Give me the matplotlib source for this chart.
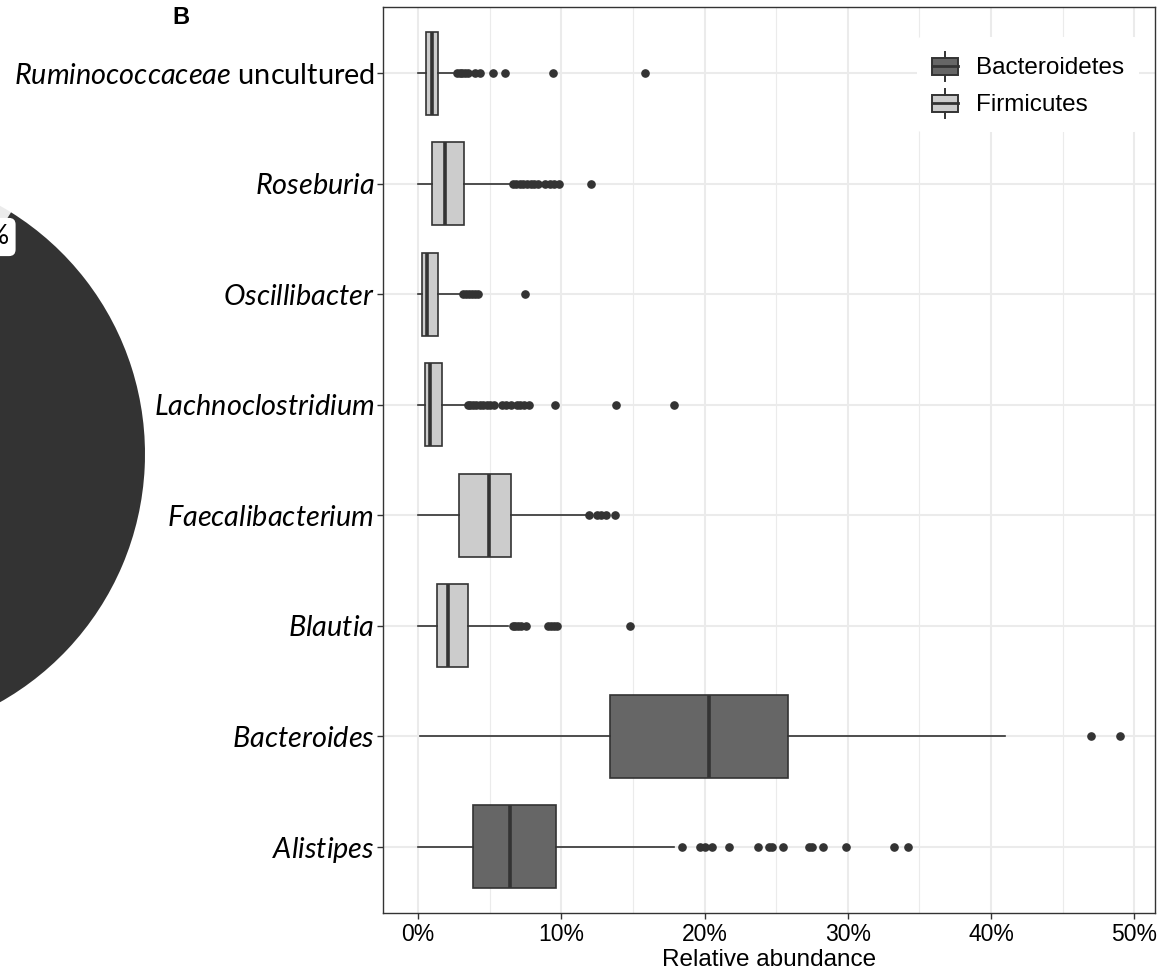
import matplotlib
matplotlib.use("AGG")
import matplotlib.pyplot as plt
from matplotlib.patches import Rectangle
from matplotlib.lines import Line2D
from matplotlib.legend_handler import HandlerBase
from matplotlib.ticker import FuncFormatter, MultipleLocator

plt.rcParams["mathtext.fontset"] = "custom"
plt.rcParams["mathtext.it"] = "Lato:italic"
plt.rcParams["mathtext.rm"] = "Lato"

# genera, bottom to top
genera = ["Alistipes", "Bacteroides", "Blautia", "Faecalibacterium",
          "Lachnoclostridium", "Oscillibacter", "Roseburia", "Ruminococcaceae"]
genus_labels = [r"$\mathit{Alistipes}$", r"$\mathit{Bacteroides}$", r"$\mathit{Blautia}$",
                r"$\mathit{Faecalibacterium}$", r"$\mathit{Lachnoclostridium}$",
                r"$\mathit{Oscillibacter}$", r"$\mathit{Roseburia}$",
                r"$\mathit{Ruminococcaceae}$ uncultured"]
phylum = ["Bacteroidetes", "Bacteroidetes", "Firmicutes", "Firmicutes",
          "Firmicutes", "Firmicutes", "Firmicutes", "Firmicutes"]

# relative abundance (%)
whislo = [0.0, 0.15, 0.0, 0.0, 0.0, 0.0, 0.0, 0.0]
q1 = [3.85, 13.4, 1.3, 2.85, 0.45, 0.3, 0.95, 0.55]
med = [6.45, 20.3, 2.1, 4.95, 0.8, 0.65, 1.9, 0.95]
q3 = [9.6, 25.85, 3.45, 6.5, 1.7, 1.4, 3.2, 1.4]
whishi = [17.85, 41.0, 6.3, 11.7, 3.25, 2.9, 6.4, 2.45]
fliers = [
    [18.4, 19.7, 20.0, 20.5, 21.7, 23.7, 24.5, 24.7, 25.5, 27.3, 27.5, 28.3, 29.9, 33.2, 34.2],
    [47.0, 49.0],
    [6.6, 6.8, 7.0, 7.2, 7.5, 9.1, 9.3, 9.5, 9.7, 14.8],
    [11.95, 12.5, 12.8, 13.1, 13.75],
    [3.45, 3.65, 3.85, 4.05, 4.3, 4.55, 4.8, 5.05, 5.3, 5.85, 6.15, 6.5,
     6.9, 7.15, 7.4, 7.75, 9.55, 13.8, 17.9],
    [3.15, 3.35, 3.55, 3.75, 3.95, 4.15, 7.45],
    [6.6, 6.85, 7.1, 7.35, 7.6, 7.85, 8.1, 8.35, 8.85, 9.2, 9.5, 9.85, 12.05],
    [2.7, 2.9, 3.1, 3.3, 3.5, 3.95, 4.3, 5.25, 6.1, 9.45, 15.85],
]

# phylum shares in the pie (panel A, only partly shown)
pie_shares = [10, 90]

fills = {"Bacteroidetes": "#666666", "Firmicutes": "#CCCCCC"}
edge = "#333333"


class BoxKey(HandlerBase):
    def create_artists(self, legend, orig_handle, xdescent, ydescent,
                       width, height, fontsize, trans):
        x0, y0 = -xdescent, -ydescent
        bx = Rectangle((x0, y0 + 0.2 * height), width, 0.6 * height,
                       facecolor=orig_handle.get_facecolor(), edgecolor=edge,
                       linewidth=1.4, transform=trans)
        mid = Line2D([x0, x0 + width], [y0 + 0.5 * height] * 2,
                     color=edge, linewidth=2.0, transform=trans)
        top = Line2D([x0 + width / 2] * 2, [y0 + 0.8 * height, y0 + height],
                     color=edge, linewidth=1.4, transform=trans)
        bot = Line2D([x0 + width / 2] * 2, [y0, y0 + 0.2 * height],
                     color=edge, linewidth=1.4, transform=trans)
        return [bx, mid, top, bot]


fig = plt.figure(figsize=(11.62, 9.8), dpi=100)

# pie fragment on the left
pax = fig.add_axes([(-140 - 285) / 1162, (980 - 454 - 285) / 980, 570 / 1162, 570 / 980])
pax.pie(pie_shares, colors=["#EBEBEB", "#333333"], startangle=58, counterclock=True,
        wedgeprops=dict(linewidth=0))
pax.set_xlim(-1, 1)
pax.set_ylim(-1, 1)
pax.set_axis_off()
fig.text(9 / 1162, 1 - 237 / 980, "%", ha="right", va="center", fontsize=19,
         family="Lato", bbox=dict(boxstyle="round,pad=0.25", fc="white", ec="none"))

ax = fig.add_axes([383 / 1162, 67 / 980, 772 / 1162, 906 / 980])

stats = []
for i in range(len(genera)):
    stats.append(dict(med=med[i], q1=q1[i], q3=q3[i], whislo=whislo[i],
                      whishi=whishi[i], fliers=fliers[i], label=genera[i]))

pos = list(range(1, len(genera) + 1))
bp = ax.bxp(stats, positions=pos, widths=0.75, vert=False, patch_artist=True,
            showcaps=False,
            boxprops=dict(edgecolor=edge, linewidth=1.2),
            whiskerprops=dict(color=edge, linewidth=1.2),
            medianprops=dict(color=edge, linewidth=2.6),
            flierprops=dict(marker="o", markerfacecolor=edge, markeredgecolor=edge,
                            markersize=5.2, linestyle="none"))
for patch, ph in zip(bp["boxes"], phylum):
    patch.set_facecolor(fills[ph])
for ln in bp["whiskers"] + bp["medians"] + bp["boxes"]:
    ln.set_zorder(3)

ax.set_xlim(-2.45, 51.45)
ax.set_ylim(0.4, 8.6)
ax.xaxis.set_major_locator(MultipleLocator(10))
ax.xaxis.set_minor_locator(MultipleLocator(5))
ax.xaxis.set_major_formatter(FuncFormatter(lambda v, p: f"{v:.0f}%"))
ax.set_yticks(pos)
ax.set_yticklabels(genus_labels, fontsize=20.8, family="Lato")
for t in ax.get_xticklabels():
    t.set_family("Liberation Sans")
ax.tick_params(axis="x", labelsize=16.5, length=4, width=1.0, color=edge, pad=3)
ax.tick_params(axis="y", length=4, width=1.0, color=edge, pad=2)
ax.tick_params(which="minor", length=0)
ax.grid(True, which="major", color="#EBEBEB", linewidth=1.5, zorder=0)
ax.grid(True, which="minor", axis="x", color="#EBEBEB", linewidth=0.8, zorder=0)
ax.set_axisbelow(True)
for s in ax.spines.values():
    s.set_color(edge)
    s.set_linewidth(1.0)
ax.set_xlabel("Relative abundance", fontsize=17.5, family="Liberation Sans", labelpad=2)

handles = [Rectangle((0, 0), 1, 1, facecolor=fills[k]) for k in ["Bacteroidetes", "Firmicutes"]]
leg = ax.legend(handles, ["Bacteroidetes", "Firmicutes"], handler_map={Rectangle: BoxKey()},
                loc="upper right", bbox_to_anchor=(0.995, 0.98), frameon=True,
                prop=dict(family="Liberation Sans", size=17.5),
                handlelength=1.07, handleheight=1.45, handletextpad=0.75, labelspacing=0.33,
                borderpad=0.6)
leg.get_frame().set_facecolor("white")
leg.get_frame().set_edgecolor("none")
leg.get_frame().set_alpha(1)

fig.text(181 / 1162, 1 - 17 / 980, "B", ha="center", va="center", fontsize=17,
         fontweight="bold", family="Liberation Sans")

fig.savefig("out.png", dpi=100)
